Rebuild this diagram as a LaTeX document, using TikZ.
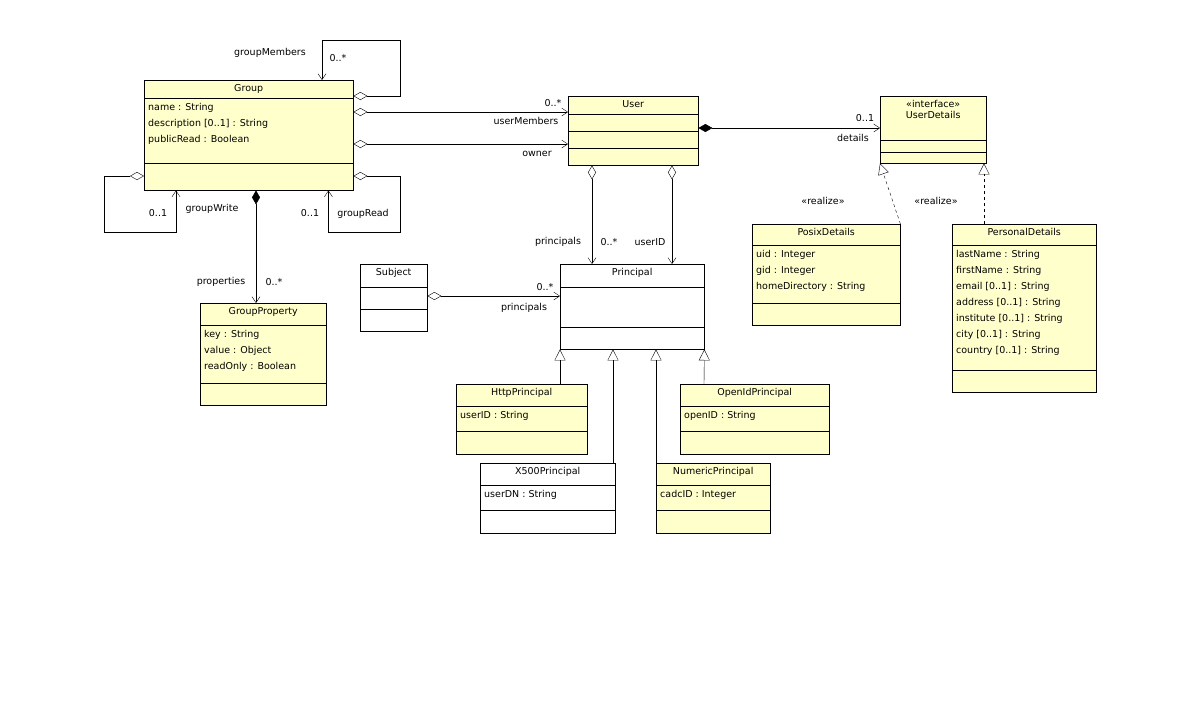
\documentclass[tikz,border=0pt]{standalone}
\usepackage{fontspec}
\setmainfont{DejaVu Sans}
\usetikzlibrary{arrows.meta,calc}
\definecolor{umlyellow}{RGB}{255,255,204}
\tikzset{
  cls/.style={draw,rectangle,inner sep=0pt,anchor=north west},
  attr/.style={anchor=north west,align=left,inner sep=0pt,font=\fontsize{9.5}{16}\selectfont},
  lbl/.style={inner sep=1pt,font=\fontsize{9.5}{11}\selectfont},
  assoc/.style={{Diamond[open,length=14pt,width=8pt]}-{Straight Barb[length=6pt,width=8pt]}},
  comp/.style={{Diamond[length=14pt,width=8pt]}-{Straight Barb[length=6pt,width=8pt]}},
  gen/.style={-{Triangle[open,length=11pt,width=11pt]}},
  real/.style={gen,dashed}
}
% name, position, width, height, fill, title, divider1, divider2, attributes
\newcommand{\umlclass}[9]{%
  \node[cls,fill=#5,minimum width=#3,minimum height=#4] (#1) at (#2) {};
  \node[lbl,align=center,anchor=north] at ([yshift=-3pt]#1.north) {#6};
  \draw ([yshift=-#7]#1.north west) -- ([yshift=-#7]#1.north east);
  \draw ([yshift=-#8]#1.north west) -- ([yshift=-#8]#1.north east);
  \node[attr] at ([shift={(4pt,-#7-5pt)}]#1.north west) {#9};
}
\begin{document}
\begin{tikzpicture}[x=1pt,y=-1pt,font=\fontsize{9.5}{11}\selectfont]
\useasboundingbox[fill=white] (0,0) rectangle (1187,705);
\umlclass{group}{144,80}{209pt}{110pt}{umlyellow}{Group}{18pt}{83pt}{name : String\\description [0..1] : String\\publicRead : Boolean}
\umlclass{user}{568,96}{130pt}{69pt}{umlyellow}{User}{18pt}{35pt}{}
\draw ([yshift=-52pt]user.north west) -- ([yshift=-52pt]user.north east);
\umlclass{details}{880,96}{106pt}{67pt}{umlyellow}{<<interface>>\\UserDetails}{44pt}{56pt}{}
\umlclass{posix}{752,224}{148pt}{101pt}{umlyellow}{PosixDetails}{21pt}{79pt}{uid : Integer\\gid : Integer\\homeDirectory : String}
\umlclass{personal}{952,224}{144pt}{168pt}{umlyellow}{PersonalDetails}{21pt}{146pt}{lastName : String\\firstName : String\\email [0..1] : String\\address [0..1] : String\\institute [0..1] : String\\city [0..1] : String\\country [0..1] : String}
\umlclass{subject}{360,264}{67pt}{67pt}{white}{Subject}{23pt}{45pt}{}
\umlclass{principal}{560,264}{144pt}{85pt}{white}{Principal}{23pt}{63pt}{}
\umlclass{property}{200,303}{126pt}{102pt}{umlyellow}{GroupProperty}{22pt}{80pt}{key : String\\value : Object\\readOnly : Boolean}
\umlclass{http}{456,384}{131pt}{70pt}{umlyellow}{HttpPrincipal}{22pt}{47pt}{userID : String}
\umlclass{openid}{680,384}{149pt}{70pt}{umlyellow}{OpenIdPrincipal}{22pt}{47pt}{openID : String}
\umlclass{xfive}{480,463}{135pt}{70pt}{white}{X500Principal}{22pt}{47pt}{userDN : String}
\umlclass{numeric}{656,463}{114pt}{70pt}{umlyellow}{NumericPrincipal}{22pt}{47pt}{cadcID : Integer}

% group associations
\draw[assoc] ([yshift=-16pt]group.north east) -- ++(47,0) -- ++(0,-56) -| ([xshift=178pt]group.north west);
\node[lbl] at (270,53) {groupMembers};
\node[lbl] at (338,58) {0..*};
\draw[assoc] ([yshift=-32pt]group.north east) -- ([yshift=-16pt]user.north west);
\node[lbl] at (553,103) {0..*};
\node[lbl] at (526,121) {userMembers};
\draw[assoc] ([yshift=-64pt]group.north east) -- ([yshift=-48pt]user.north west);
\node[lbl] at (537,154) {owner};
\draw[assoc] ([yshift=-96pt]group.north west) -- ++(-40,0) -- ++(0,56) -| ([xshift=32pt]group.south west);
\node[lbl] at (158,213) {0..1};
\node[lbl] at (212,209) {groupWrite};
\draw[assoc] ([yshift=-96pt]group.north east) -- ++(47,0) -- ++(0,56) -| ([xshift=-25pt]group.south east);
\node[lbl] at (310,213) {0..1};
\node[lbl] at (363,214) {groupRead};
\draw[comp] ([xshift=112pt]group.south west) -- ([xshift=56pt]property.north west);
\node[lbl] at (221,282) {properties};
\node[lbl] at (274,282) {0..*};

% user associations
\draw[comp] ([yshift=-32pt]user.north east) -- ([yshift=-32pt]details.north west);
\node[lbl] at (865,118) {0..1};
\node[lbl] at (853,138) {details};
\draw[assoc] ([xshift=24pt]user.south west) -- ([xshift=32pt]principal.north west);
\node[lbl] at (558,242) {principals};
\node[lbl] at (609,242) {0..*};
\draw[assoc] ([xshift=104pt]user.south west) -- ([xshift=112pt]principal.north west);
\node[lbl] at (650,242) {userID};
\draw[assoc] ([yshift=-32pt]subject.north east) -- ([yshift=-32pt]principal.north west);
\node[lbl] at (545,287) {0..*};
\node[lbl] at (524,308) {principals};

% generalizations
\draw[gen] ([xshift=104pt]http.north west) -- (principal.south west);
\draw[gen] ([xshift=133pt]xfive.north west) -- ([xshift=53pt]principal.south west);
\draw[gen] (numeric.north west) -- ([xshift=96pt]principal.south west);
\draw[gen] ([xshift=24pt]openid.north west) -- (principal.south east);
\draw[real] (posix.north east) -- (details.south west);
\draw[real] ([xshift=32pt]personal.north west) -- ([xshift=104pt]details.south west);
\node[lbl] at (823,201) {<<realize>>};
\node[lbl] at (936,201) {<<realize>>};
\end{tikzpicture}
\end{document}
